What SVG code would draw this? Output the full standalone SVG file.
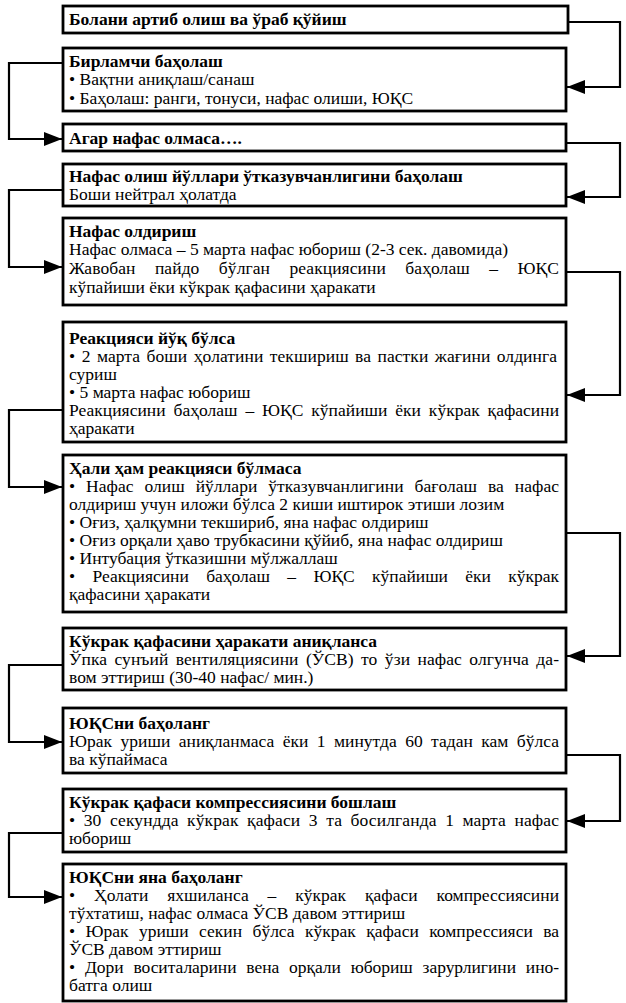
<svg xmlns="http://www.w3.org/2000/svg" width="626" height="1003" viewBox="0 0 626 1003">
<defs>
<style>
.box{fill:#fff;stroke:#000;stroke-width:2.8}
.t{font-family:"Liberation Serif","Times New Roman",serif;font-size:17.5px;fill:#000}
.b{font-weight:bold}
.c{fill:none;stroke:#000;stroke-width:2.2}
</style>
<marker id="ah" markerUnits="userSpaceOnUse" markerWidth="18" markerHeight="14" refX="18" refY="7" orient="auto">
<path d="M0,0 L18,7 L0,14 z" fill="#000"/>
</marker>
</defs>
<rect width="626" height="1003" fill="#fff"/>
<g id="connectors">
<path class="c" d="M568,22 H620 V87 H567" marker-end="url(#ah)"/>
<path class="c" d="M63,63 H9 V139 H62" marker-end="url(#ah)"/>
<path class="c" d="M566,143 H620 V197 H567" marker-end="url(#ah)"/>
<path class="c" d="M63,190 H9 V267 H62" marker-end="url(#ah)"/>
<path class="c" d="M566,272 H620 V395 H567" marker-end="url(#ah)"/>
<path class="c" d="M63,410 H9 V487 H62" marker-end="url(#ah)"/>
<path class="c" d="M566,533 H620 V656 H567" marker-end="url(#ah)"/>
<path class="c" d="M63,665 H9 V742 H62" marker-end="url(#ah)"/>
<path class="c" d="M566,755 H620 V821 H567" marker-end="url(#ah)"/>
<path class="c" d="M63,833 H9 V897 H62" marker-end="url(#ah)"/>
</g>
<g id="n1">
<rect class="box" x="63" y="6" width="505" height="27"/>
<text class="t b" x="69" y="25">Болани артиб олиш ва ўраб қўйиш</text>
</g>
<g id="n2">
<rect class="box" x="63" y="48" width="503" height="63"/>
<text class="t b" x="69" y="67">Бирламчи баҳолаш</text>
<text class="t" x="69" y="85">• Вақтни аниқлаш/санаш</text>
<text class="t" x="69" y="104">• Баҳолаш: ранги, тонуси, нафас олиши, ЮҚС</text>
</g>
<g id="n3">
<rect class="box" x="63" y="124" width="503" height="27"/>
<text class="t b" x="69" y="144">Агар нафас олмаса….</text>
</g>
<g id="n4">
<rect class="box" x="63" y="164" width="503" height="42"/>
<text class="t b" x="69" y="182">Нафас олиш йўллари ўтказувчанлигини баҳолаш</text>
<text class="t" x="69" y="200">Боши нейтрал ҳолатда</text>
</g>
<g id="n5">
<rect class="box" x="63" y="218" width="503" height="87"/>
<text class="t b" x="69" y="237">Нафас олдириш</text>
<text class="t" x="69" y="255">Нафас олмаса – 5 марта нафас юбориш (2-3 сек. давомида)</text>
<text class="t" x="69" y="274" style="word-spacing:15px" textLength="490" lengthAdjust="spacing">Жавобан пайдо бўлган реакциясини баҳолаш – ЮҚС</text>
<text class="t" x="69" y="293">кўпайиши ёки кўкрак қафасини ҳаракати</text>
</g>
<g id="n6">
<rect class="box" x="63" y="322" width="503" height="120"/>
<text class="t b" x="69" y="344">Реакцияси йўқ бўлса</text>
<text class="t" x="69" y="362" style="word-spacing:2px" textLength="488" lengthAdjust="spacing">• 2 марта боши ҳолатини текшириш ва пастки жағини олдинга</text>
<text class="t" x="69" y="380">суриш</text>
<text class="t" x="69" y="398">• 5 марта нафас юбориш</text>
<text class="t" x="69" y="416" style="word-spacing:3.5px" textLength="490" lengthAdjust="spacing">Реакциясини баҳолаш – ЮҚС кўпайиши ёки кўкрак қафасини</text>
<text class="t" x="69" y="434">ҳаракати</text>
</g>
<g id="n7">
<rect class="box" x="63" y="455" width="503" height="157"/>
<text class="t b" x="69" y="474">Ҳали ҳам реакцияси бўлмаса</text>
<text class="t" x="69" y="492" style="word-spacing:6.5px" textLength="490" lengthAdjust="spacing">• Нафас олиш йўллари ўтказувчанлигини бағолаш ва нафас</text>
<text class="t" x="69" y="510">олдириш учун иложи бўлса 2 киши иштирок этиши лозим</text>
<text class="t" x="69" y="528">• Оғиз, ҳалқумни текшириб, яна нафас олдириш</text>
<text class="t" x="69" y="546">• Оғиз орқали ҳаво трубкасини қўйиб, яна нафас олдириш</text>
<text class="t" x="69" y="564">• Интубация ўтказишни мўлжаллаш</text>
<text class="t" x="69" y="582" style="word-spacing:13px" textLength="490" lengthAdjust="spacing">• Реакциясини баҳолаш – ЮҚС кўпайиши ёки кўкрак</text>
<text class="t" x="69" y="600">қафасини ҳаракати</text>
</g>
<g id="n8">
<rect class="box" x="63" y="628" width="503" height="62"/>
<text class="t b" x="69" y="647">Кўкрак қафасини ҳаракати аниқланса</text>
<text class="t" x="69" y="665" style="word-spacing:3px" textLength="490" lengthAdjust="spacing">Ўпка сунъий вентиляциясини (ЎСВ) то ўзи нафас олгунча да-</text>
<text class="t" x="69" y="683">вом эттириш (30-40 нафас/ мин.)</text>
</g>
<g id="n9">
<rect class="box" x="63" y="708" width="503" height="65"/>
<text class="t b" x="69" y="729">ЮҚСни баҳоланг</text>
<text class="t" x="69" y="747" style="word-spacing:4px" textLength="490" lengthAdjust="spacing">Юрак уриши аниқланмаса ёки 1 минутда 60 тадан кам бўлса</text>
<text class="t" x="69" y="765">ва кўпаймаса</text>
</g>
<g id="n10">
<rect class="box" x="63" y="789" width="503" height="63"/>
<text class="t b" x="69" y="808">Кўкрак қафаси компрессиясини бошлаш</text>
<text class="t" x="69" y="826" style="word-spacing:4px" textLength="490" lengthAdjust="spacing">• 30 секундда кўкрак қафаси 3 та босилганда 1 марта нафас</text>
<text class="t" x="69" y="844">юбориш</text>
</g>
<g id="n11">
<rect class="box" x="63" y="864" width="503" height="137"/>
<text class="t b" x="69" y="883">ЮҚСни яна баҳоланг</text>
<text class="t" x="69" y="901" style="word-spacing:14.5px" textLength="490" lengthAdjust="spacing">• Ҳолати яхшиланса – кўкрак қафаси компрессиясини</text>
<text class="t" x="69" y="919">тўхтатиш, нафас олмаса ЎСВ давом эттириш</text>
<text class="t" x="69" y="937" style="word-spacing:6px" textLength="490" lengthAdjust="spacing">• Юрак уриши секин бўлса кўкрак қафаси компрессияси ва</text>
<text class="t" x="69" y="955">ЎСВ давом эттириш</text>
<text class="t" x="69" y="973" style="word-spacing:5.5px" textLength="490" lengthAdjust="spacing">• Дори воситаларини вена орқали юбориш зарурлигини ино-</text>
<text class="t" x="69" y="991">батга олиш</text>
</g>
</svg>
